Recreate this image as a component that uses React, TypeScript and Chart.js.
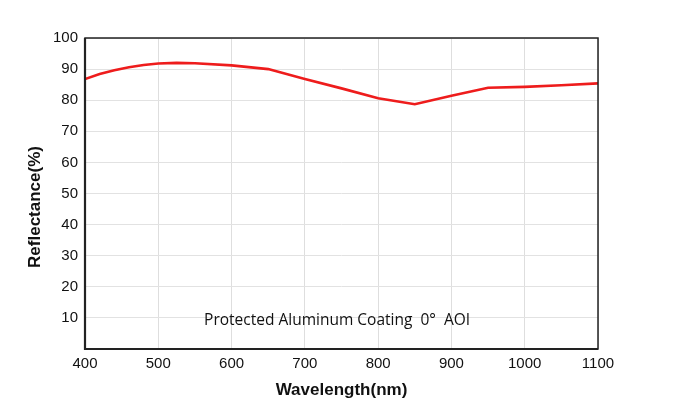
import React, { useEffect, useRef } from "react";
import { Chart, registerables } from "chart.js";

Chart.register(...registerables);

const wavelengths = [400, 420, 440, 460, 480, 500, 525, 550, 600, 650, 700, 750, 800, 850, 900, 950, 1000, 1050, 1100];
const reflectance = [86.8, 88.4, 89.6, 90.6, 91.3, 91.8, 92.0, 91.9, 91.2, 90.0, 86.8, 83.8, 80.6, 78.7, 81.4, 84.0, 84.3, 84.8, 85.4];
const xTicks = [400, 500, 600, 700, 800, 900, 1000, 1100];
const yTicks = [0, 10, 20, 30, 40, 50, 60, 70, 80, 90, 100];
const annotationText = "Protected Aluminum Coating  0°  AOI";
const annotationPos = { x: 744, y: 9 };
const xTitle = "Wavelength(nm)";
const yTitle = "Reflectance(%)";

export default function App() {
  const ref = useRef<HTMLCanvasElement | null>(null);
  useEffect(() => {
    if (!ref.current) return;
    const decor = {
      id: "decor",
      afterDraw(chart: any) {
        const { ctx, chartArea } = chart;
        const xs = chart.scales.x;
        const ys = chart.scales.y;
        ctx.save();
        ctx.strokeStyle = "#222";
        ctx.lineWidth = 1.5;
        ctx.strokeRect(chartArea.left, chartArea.top, chartArea.right - chartArea.left, chartArea.bottom - chartArea.top);
        ctx.lineWidth = 2.2;
        ctx.beginPath();
        ctx.moveTo(chartArea.left, chartArea.top);
        ctx.lineTo(chartArea.left, chartArea.bottom);
        ctx.lineTo(chartArea.right, chartArea.bottom);
        ctx.stroke();
        ctx.fillStyle = "#111";
        ctx.font = "15.5px 'Open Sans'";
        ctx.textAlign = "center";
        ctx.textBaseline = "middle";
        ctx.fillText(annotationText, xs.getPixelForValue(annotationPos.x), ys.getPixelForValue(annotationPos.y));
        ctx.font = "bold 17px 'Liberation Sans', Arial";
        ctx.fillText(xTitle, (chartArea.left + chartArea.right) / 2, 390);
        ctx.translate(35, 207);
        ctx.rotate(-Math.PI / 2);
        ctx.fillText(yTitle, 0, 0);
        ctx.restore();
      },
    };
    const chart = new Chart(ref.current, {
      type: "line",
      data: {
        datasets: [
          {
            data: wavelengths.map((w, i) => ({ x: w, y: reflectance[i] })),
            borderColor: "#ee1c1c",
            borderWidth: 2.6,
            pointRadius: 0,
            tension: 0,
            fill: false,
          },
        ],
      },
      options: {
        animation: false,
        responsive: false,
        maintainAspectRatio: false,
        layout: { padding: { left: 0, top: 38, right: 76, bottom: 0 } },
        plugins: { legend: { display: false }, tooltip: { enabled: false } },
        scales: {
          x: {
            type: "linear",
            min: 400,
            max: 1100,
            afterBuildTicks: (s: any) => {
              s.ticks = xTicks.map((v) => ({ value: v }));
            },
            afterFit: (s: any) => {
              s.height = 61;
            },
            grid: { color: "#dedede", lineWidth: 1, drawTicks: false },
            border: { display: false },
            ticks: {
              color: "#111",
              padding: 6,
              maxRotation: 0,
              callback: (v: any) => String(v),
              font: { family: "'Liberation Sans', Arial", size: 15 },
            },
          },
          y: {
            min: 0,
            max: 100,
            afterBuildTicks: (s: any) => {
              s.ticks = yTicks.map((v) => ({ value: v }));
            },
            afterFit: (s: any) => {
              s.width = 85;
            },
            grid: { color: "#e2e2e2", lineWidth: 1, drawTicks: false },
            border: { display: false },
            ticks: {
              color: "#111",
              padding: 7,
              callback: (v: any) => (v === 0 ? "" : String(v)),
              font: { family: "'Liberation Sans', Arial", size: 15 },
            },
          },
        },
      },
      plugins: [decor],
    });
    return () => chart.destroy();
  }, []);
  return (
    <div style={{ position: "fixed", left: 0, top: 0, width: 674, height: 410, background: "#fff" }}>
      <canvas ref={ref} width={674} height={410} style={{ width: 674, height: 410 }} />
    </div>
  );
}
